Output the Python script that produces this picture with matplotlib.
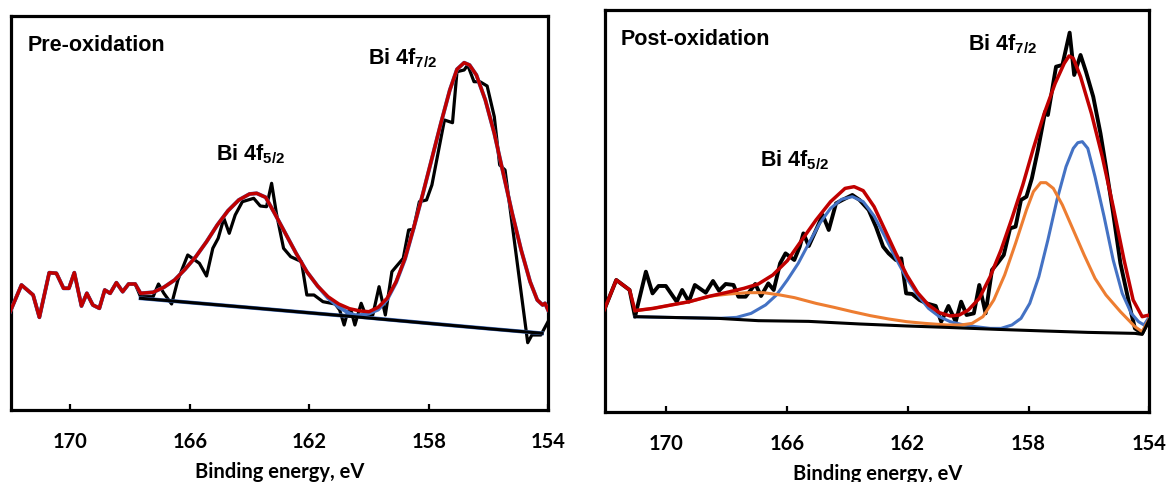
import numpy as np
import matplotlib
matplotlib.use("Agg")
import matplotlib.pyplot as plt

plt.rcParams["mathtext.fontset"] = "custom"
plt.rcParams["mathtext.rm"] = "Liberation Sans:bold"
plt.rcParams["mathtext.it"] = "Liberation Sans:bold"
plt.rcParams["mathtext.bf"] = "Liberation Sans:bold"

# ---------------- Pre-oxidation ----------------
pre_raw_e = [172.02, 171.64, 171.25, 171.04, 170.71, 170.47, 170.23, 170.05, 169.87, 169.63,
             169.45, 169.25, 169.03, 168.85, 168.67, 168.46, 168.25, 168.05, 167.83, 167.65,
             167.23, 167.05, 166.87, 166.61, 166.40, 166.07, 165.68, 165.44, 165.23, 165.05,
             164.86, 164.68, 164.48, 164.24, 163.86, 163.64, 163.43, 163.26, 163.10, 162.86,
             162.62, 162.38, 162.26, 162.08, 161.84, 161.54, 161.13, 160.98, 160.83, 160.71,
             160.59, 160.47, 160.26, 160.11, 159.87, 159.66, 159.45, 159.23, 159.09, 158.85,
             158.67, 158.51, 158.31, 158.07, 157.89, 157.75, 157.47, 157.20, 157.05, 156.81,
             156.69, 156.48, 156.28, 156.04, 155.80, 155.62, 155.44, 154.68, 154.54, 154.24,
             154.00]
pre_raw_i = [98.3, 125.0, 115.0, 92.7, 137.3, 136.7, 121.7, 121.7, 137.3, 104.0,
             116.7, 105.0, 101.7, 120.0, 116.7, 127.3, 118.3, 126.0, 126.0, 113.3,
             113.3, 126.0, 116.7, 106.0, 130.0, 155.0, 146.7, 134.0, 161.7, 171.7,
             191.7, 176.7, 195.0, 208.3, 211.7, 204.0, 203.3, 226.7, 196.7, 161.7,
             153.3, 150.0, 148.3, 115.0, 115.0, 108.3, 106.0, 100.0, 85.0, 98.3,
             98.3, 85.0, 106.7, 95.0, 95.0, 123.3, 95.0, 138.3, 143.3, 151.7,
             180.0, 180.7, 208.3, 210.0, 225.0, 246.7, 290.0, 287.3, 338.3, 340.0,
             345.0, 328.3, 328.3, 324.0, 293.3, 245.0, 240.0, 67.3, 75.0, 75.0,
             88.3]
n_pre_open = 19  # points left of the fitting window

pre_fit_e = [167.65, 167.23, 166.87, 166.51, 166.16, 165.80, 165.44, 165.08, 164.72, 164.36,
             164.00, 163.76, 163.46, 163.16, 162.80, 162.44, 162.08, 161.72, 161.37, 161.01,
             160.65, 160.29, 160.00, 159.69, 159.39, 159.09, 158.79, 158.49, 158.19, 157.89,
             157.59, 157.29, 157.05, 156.81, 156.63, 156.40, 156.10, 155.80, 155.50, 155.20,
             154.90, 154.60, 154.36, 154.18, 154.10, 154.00]
pre_fit_i = [116.7, 117.7, 122.7, 130.0, 140.7, 153.3, 168.3, 185.0, 199.3, 210.0,
             216.0, 216.7, 212.7, 196.7, 176.7, 156.7, 138.3, 124.0, 113.3, 106.0,
             101.3, 99.0, 98.3, 102.7, 111.7, 128.3, 151.7, 183.3, 216.7, 251.7,
             286.7, 320.0, 340.7, 347.3, 345.0, 335.0, 310.0, 276.7, 236.7, 196.7,
             160.0, 128.3, 110.0, 105.0, 106.7, 100.0]

pre_bg_e = [167.65, 164.0, 160.0, 156.0, 154.2]
pre_bg_i = [111.7, 102.4, 92.0, 81.3, 76.7]

# Bi 4f5/2 component (doublet partner ends on the background)
pre_c52_e = [167.65, 167.23, 166.87, 166.51, 166.16, 165.80, 165.44, 165.08, 164.72, 164.36,
             164.00, 163.76, 163.46, 163.16, 162.80, 162.44, 162.08, 161.72, 161.37, 161.01,
             160.65, 160.29, 159.5, 157.0, 154.2]
pre_c52_i = [116.7, 117.7, 122.7, 130.0, 140.7, 153.3, 168.3, 185.0, 199.3, 210.0,
             216.0, 216.7, 212.7, 196.7, 176.7, 156.7, 138.3, 124.0, 112.0, 103.0,
             96.5, 93.0, 90.8, 84.0, 76.7]
# Bi 4f7/2 component
pre_c72_e = [167.65, 164.0, 161.0, 160.65, 160.29, 160.00, 159.69, 159.39, 159.09, 158.79,
             158.49, 158.19, 157.89, 157.59, 157.29, 157.05, 156.81, 156.63, 156.40, 156.10,
             155.80, 155.50, 155.20, 154.90, 154.60, 154.36, 154.18, 154.10, 154.00]
pre_c72_i = [111.7, 102.4, 94.6, 94.0, 94.8, 96.5, 100.5, 110.5, 127.5, 151.0,
             183.0, 216.5, 251.5, 286.5, 320.0, 340.7, 347.3, 345.0, 335.0, 310.0,
             276.7, 236.7, 196.7, 160.0, 128.3, 110.0, 105.0, 106.7, 100.0]

# ---------------- Post-oxidation ----------------
post_raw_e = [172.04, 171.64, 171.20, 171.02, 170.66, 170.44, 170.24, 170.00, 169.64, 169.46,
              169.24, 169.04, 168.68, 168.44, 168.24, 168.02, 167.76, 167.60, 167.36, 167.04,
              166.85, 166.61, 166.43, 166.22, 166.04, 165.75, 165.57, 165.45, 165.27, 165.03,
              164.81, 164.61, 164.37, 164.16, 163.83, 163.59, 163.29, 163.05, 162.81, 162.63,
              162.39, 162.21, 162.05, 161.85, 161.61, 161.37, 161.07, 160.89, 160.65, 160.41,
              160.23, 160.05, 159.81, 159.63, 159.42, 159.21, 159.03, 158.82, 158.61, 158.43,
              158.25, 158.07, 157.89, 157.69, 157.45, 157.36, 157.09, 156.88, 156.64, 156.49,
              156.28, 156.10, 155.86, 155.62, 155.44, 155.20, 154.96, 154.60, 154.48, 154.24,
              154.00]
post_raw_i = [101.7, 131.7, 121.7, 95.0, 140.0, 118.3, 125.7, 125.7, 110.0, 121.7,
              110.0, 126.7, 119.0, 130.7, 121.0, 127.7, 126.7, 115.0, 115.0, 127.7,
              115.7, 128.3, 121.7, 148.3, 158.3, 151.7, 165.0, 178.3, 165.7, 181.7,
              196.7, 181.7, 208.3, 211.7, 216.7, 211.7, 201.7, 185.0, 165.0, 158.3,
              151.7, 153.3, 118.3, 117.7, 111.7, 108.3, 105.7, 90.0, 105.7, 90.0,
              110.0, 96.7, 98.3, 126.7, 98.3, 141.7, 148.3, 156.7, 183.3, 185.0,
              211.7, 215.0, 233.3, 261.7, 300.0, 296.7, 345.0, 346.7, 379.0, 336.7,
              356.7, 340.0, 315.0, 278.3, 245.0, 198.3, 148.3, 98.3, 83.3, 78.3,
              92.3]
n_post_open = 3  # points left of the fitting window

post_fit_e = [171.02, 170.42, 169.82, 169.22, 168.62, 168.02, 167.42, 166.94, 166.46, 165.98,
              165.50, 165.03, 164.55, 164.07, 163.77, 163.47, 163.11, 162.75, 162.39, 162.03,
              161.67, 161.31, 160.95, 160.59, 160.29, 159.99, 159.63, 159.27, 158.91, 158.55,
              158.19, 157.84, 157.48, 157.12, 156.82, 156.66, 156.52, 156.28, 155.92, 155.56,
              155.20, 154.84, 154.54, 154.24, 154.00]
post_fit_i = [101.0, 103.3, 106.7, 110.0, 115.0, 119.0, 123.3, 127.7, 136.7, 151.0,
              171.7, 191.7, 210.0, 223.3, 225.0, 221.0, 205.0, 181.7, 158.3, 136.7,
              119.0, 106.7, 99.0, 95.7, 96.7, 101.7, 113.3, 135.0, 161.7, 193.3,
              226.7, 263.3, 298.3, 328.3, 348.3, 355.7, 353.3, 335.0, 298.3, 255.0,
              205.0, 151.7, 111.7, 95.0, 96.7]

post_bg_e = [171.02, 169.94, 168.26, 166.94, 165.27, 163.59, 162.03, 160.71, 159.03, 157.48,
             156.04, 154.48, 154.24, 154.00]
post_bg_i = [95.0, 94.3, 93.3, 91.0, 90.3, 87.7, 85.7, 84.3, 82.3, 80.7,
             79.3, 78.3, 77.3, 92.3]

# Metallic Bi component
post_met_e = [171.02, 169.94, 168.26, 167.66, 167.18, 166.70, 166.34, 165.98, 165.62, 165.27,
              164.91, 164.55, 164.19, 163.83, 163.47, 163.11, 162.75, 162.39, 162.03, 161.67,
              161.31, 160.95, 160.59, 160.23, 159.75, 159.27, 158.91, 158.55, 158.25, 157.96,
              157.66, 157.36, 157.06, 156.76, 156.52, 156.37, 156.22, 156.04, 155.80, 155.50,
              155.20, 154.90, 154.60, 154.36, 154.18, 154.00]
post_met_i = [95.0, 94.3, 93.3, 94.3, 98.3, 106.7, 116.7, 131.7, 148.3, 168.3,
              188.3, 203.3, 212.3, 215.0, 210.0, 195.7, 175.0, 153.3, 133.3, 116.7,
              103.3, 95.0, 90.0, 87.3, 85.0, 83.3, 83.3, 86.7, 93.3, 108.3,
              135.0, 171.7, 211.7, 245.0, 263.3, 269.0, 270.0, 263.3, 235.0, 195.0,
              151.7, 118.3, 98.3, 90.0, 86.7, 95.0]

# Oxidised Bi component
post_ox_e = [171.02, 170.42, 169.82, 169.22, 168.50, 167.90, 167.30, 166.76, 166.22, 165.74,
             165.03, 164.43, 163.83, 163.23, 162.63, 162.03, 161.43, 160.71, 160.23, 159.87,
             159.51, 159.15, 158.79, 158.43, 158.07, 157.84, 157.60, 157.42, 157.18, 156.88,
             156.52, 156.16, 155.80, 155.44, 154.96, 154.48, 154.24, 154.00]
post_ox_i = [101.0, 103.3, 106.7, 110.0, 115.7, 117.7, 119.0, 119.0, 116.7, 114.0,
             108.3, 104.3, 100.0, 96.0, 92.7, 90.0, 88.3, 86.7, 86.7, 88.3,
             95.0, 111.7, 136.7, 168.3, 201.7, 220.0, 229.0, 229.0, 223.3, 206.7,
             181.7, 156.7, 133.3, 116.7, 100.0, 85.0, 80.0, 93.3]

tick_values = [170, 166, 162, 158, 154]
x_label = "Binding energy, eV"

BLACK = "#000000"
RED = "#C00000"
BLUE = "#4472C4"
ORANGE = "#ED7D31"

fig = plt.figure(figsize=(11.66, 4.82), dpi=100)
ax1 = fig.add_axes([0.0092, 0.1494, 0.4608, 0.8174])
ax2 = fig.add_axes([0.5192, 0.1459, 0.4666, 0.8334])

label_font = dict(family="Liberation Sans", weight="bold", size=15.5)
tick_font = dict(family="Lato", weight="bold", size=14.5)


def style_axes(ax, ylim):
    ax.set_xlim(172, 154)
    ax.set_ylim(*ylim)
    for sp in ax.spines.values():
        sp.set_linewidth(2.3)
        sp.set_color(BLACK)
    ax.set_yticks([])
    ax.set_xticks(tick_values)
    ax.set_xticklabels([str(v) for v in tick_values], fontdict=tick_font)
    ax.tick_params(axis="x", direction="in", length=4, width=1.6, pad=16)
    ax.set_xlabel(x_label, fontdict=tick_font, labelpad=7)


# left panel
pre_env_e = pre_raw_e[:n_pre_open] + pre_fit_e
pre_env_i = pre_raw_i[:n_pre_open] + pre_fit_i
ax1.plot(pre_raw_e, pre_raw_i, color=BLACK, lw=2.3, zorder=2)
ax1.plot(pre_raw_e[:n_pre_open] + pre_c52_e, pre_raw_i[:n_pre_open] + pre_c52_i,
         color=BLUE, lw=2.8, zorder=3)
ax1.plot(pre_c72_e, pre_c72_i, color=BLUE, lw=2.8, zorder=3)
ax1.plot(pre_bg_e, pre_bg_i, color=BLACK, lw=2.2, zorder=4)
ax1.plot(pre_env_e, pre_env_i, color=RED, lw=2.5, zorder=5)
style_axes(ax1, (0, 394))
ax1.text(171.42, 359, "Pre-oxidation", fontdict=label_font, va="baseline", ha="left")
ax1.text(160.03, 346, r"Bi 4f$_{7/2}$", fontdict=label_font, va="baseline", ha="left")
ax1.text(165.12, 250, r"Bi 4f$_{5/2}$", fontdict=label_font, va="baseline", ha="left")

# right panel
post_env_e = post_raw_e[:n_post_open] + post_fit_e
post_env_i = post_raw_i[:n_post_open] + post_fit_i
ax2.plot(post_raw_e, post_raw_i, color=BLACK, lw=2.8, zorder=2)
ax2.plot(post_met_e, post_met_i, color=BLUE, lw=2.2, zorder=3)
ax2.plot(post_ox_e, post_ox_i, color=ORANGE, lw=2.2, zorder=3)
ax2.plot(post_bg_e, post_bg_i, color=BLACK, lw=2.2, zorder=4)
ax2.plot(post_env_e, post_env_i, color=RED, lw=2.5, zorder=5)
style_axes(ax2, (0, 401.7))
ax2.text(171.49, 366.7, "Post-oxidation", fontdict=label_font, va="baseline", ha="left")
ax2.text(159.99, 361, r"Bi 4f$_{7/2}$", fontdict=label_font, va="baseline", ha="left")
ax2.text(166.89, 245.7, r"Bi 4f$_{5/2}$", fontdict=label_font, va="baseline", ha="left")

fig.savefig("out.png", dpi=100)
